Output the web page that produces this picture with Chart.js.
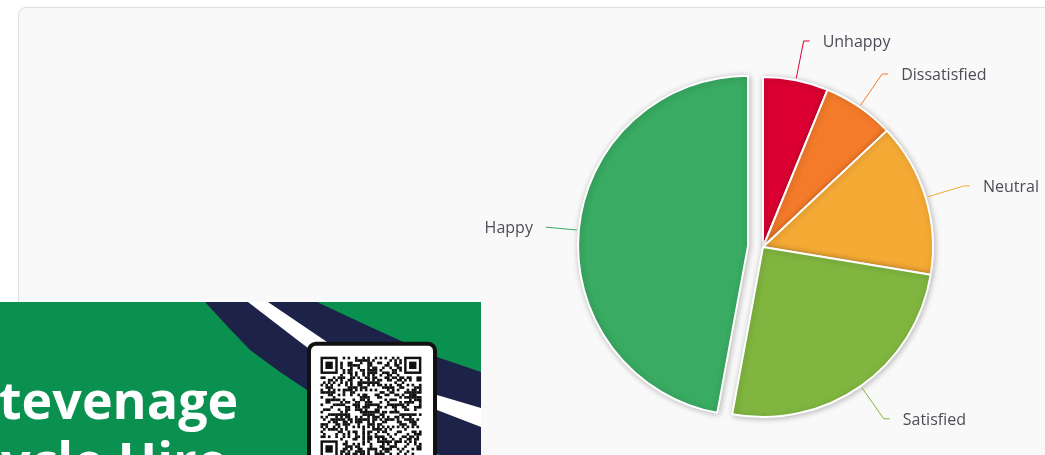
<!DOCTYPE html>
<html>
<head>
<meta charset="utf-8">
<script src="https://cdn.jsdelivr.net/npm/chart.js@4.4.1/dist/chart.umd.min.js"></script>
<style>
html,body{margin:0;padding:0;background:#ffffff;width:1045px;height:455px;overflow:hidden;}
#card{position:absolute;left:18px;top:7px;width:1100px;height:600px;background:#f9f9f9;border:1px solid #e0e0e0;border-radius:8px;box-shadow:0 0 2px rgba(0,0,0,0.06);}
#wrap{position:absolute;left:0;top:0;width:1045px;height:455px;}
#ad{position:absolute;left:0;top:302px;width:481px;height:153px;overflow:hidden;background:#0a9150;}
#ad svg{position:absolute;left:0;top:0;}
.adtxt{position:absolute;color:#ffffff;font-family:"Open Sans",sans-serif;font-weight:700;font-size:52px;line-height:52px;white-space:nowrap;}
</style>
</head>
<body>
<div id="card"></div>
<div id="wrap"><canvas id="c"></canvas></div>
<div id="ad">
  <svg id="adsvg" width="481" height="153" viewBox="0 0 481 153">
    <path d="M205,0 L317,0 Q385,32 437,55 L481,70 L481,153 L440,153 L360,115 L307,88 L280,70 L250,48 L228,25 Z" fill="#1d2348"/>
    <path d="M248,0 L268,0 L330,42 L437,93 L481,106 L481,125 L437,108 L320,55 L300,40 Z" fill="#ffffff"/>
    <rect x="309" y="41.7" width="126" height="140" rx="7" ry="7" fill="#ffffff" stroke="#111111" stroke-width="4"/>
    <g id="qr"></g>
  </svg>
  <div class="adtxt" id="t1">Stevenage</div>
  <div class="adtxt" id="t2">Cycle Hire</div>
</div>
<script>
// ---- data ----
const categories = ['Unhappy', 'Dissatisfied', 'Neutral', 'Satisfied', 'Happy'];
const responses = [6.2, 6.8, 14.6, 25.3, 47.1];
const explodedCategory = 'Happy';

// ---- styles ----
const sliceColors = ['#dc0032', '#f47b2a', '#f5aa36', '#80b63f', '#39ab62'];
const EXPLODE_PX = 15;
const LABEL_FONT = '16px "Open Sans", sans-serif';

function sliceCenter(arc, i) {
  const p = arc.getProps(['x', 'y', 'startAngle', 'endAngle', 'outerRadius'], true);
  const mid = (p.startAngle + p.endAngle) / 2;
  const off = categories[i] === explodedCategory ? EXPLODE_PX : 0;
  return {cx: p.x + Math.cos(mid) * off, cy: p.y + Math.sin(mid) * off, mid, r: p.outerRadius, dx: Math.cos(mid) * off, dy: Math.sin(mid) * off};
}

const explodeAndShadow = {
  id: 'explodeAndShadow',
  beforeDatasetDraw(chart, args) {
    const ctx = chart.ctx;
    args.meta.data.forEach((arc, i) => {
      const s = sliceCenter(arc, i);
      ctx.save();
      ctx.translate(s.dx, s.dy);
      ctx.shadowColor = 'rgba(0,0,0,0.25)';
      ctx.shadowBlur = 6;
      ctx.shadowOffsetX = 1;
      ctx.shadowOffsetY = 1;
      arc.draw(ctx, chart.chartArea);
      ctx.restore();
    });
    return false;
  }
};

const leaderLabels = {
  id: 'leaderLabels',
  afterDatasetsDraw(chart) {
    const ctx = chart.ctx;
    const meta = chart.getDatasetMeta(0);
    ctx.save();
    ctx.font = LABEL_FONT;
    meta.data.forEach((arc, i) => {
      const s = sliceCenter(arc, i);
      const c = Math.cos(s.mid), n = Math.sin(s.mid);
      const right = c >= 0;
      const len = right ? 40 : 33;
      const tick = right ? 6 : 0;
      const x0 = s.cx + c * (s.r + 2), y0 = s.cy + n * (s.r + 2);
      const x1 = s.cx + c * (s.r + len), y1 = s.cy + n * (s.r + len);
      const x2 = x1 + (right ? tick : -tick);
      ctx.strokeStyle = sliceColors[i];
      ctx.lineWidth = 1;
      ctx.beginPath();
      ctx.moveTo(x0, y0);
      ctx.lineTo(x1, y1);
      ctx.lineTo(x2, y1);
      ctx.stroke();
      ctx.fillStyle = '#4d4d57';
      ctx.textAlign = right ? 'left' : 'right';
      ctx.textBaseline = 'alphabetic';
      ctx.fillText(categories[i], x2 + (right ? 13 : -13), y1 + 6);
    });
    ctx.restore();
  }
};

new Chart(document.getElementById('c'), {
  type: 'pie',
  data: {
    labels: categories,
    datasets: [{
      data: responses,
      backgroundColor: sliceColors,
      borderColor: '#ffffff',
      borderWidth: 2
    }]
  },
  options: {
    responsive: true,
    maintainAspectRatio: false,
    animation: false,
    events: [],
    radius: 170,
    layout: {padding: {left: 563, right: 82, top: 47, bottom: 8}},
    plugins: {legend: {display: false}, tooltip: {enabled: false}}
  },
  plugins: [explodeAndShadow, leaderLabels]
});

// ---- decorative overlay (ad banner) ----
(function () {
  const mctx = document.createElement('canvas').getContext('2d');
  mctx.font = '700 52px "Open Sans", sans-serif';
  const sW = mctx.measureText('S').width;
  const cW = mctx.measureText('C').width;
  const t1 = document.getElementById('t1');
  const t2 = document.getElementById('t2');
  t1.style.left = (-sW - 1) + 'px';
  t1.style.top = (111 - 40) + 'px';
  t2.style.left = (-cW + 1) + 'px';
  t2.style.top = (172 - 40) + 'px';

  const g = document.getElementById('qr');
  const m = 2.46, ox = 320.5, oy = 54.7, N = 41;
  const ns = 'http://www.w3.org/2000/svg';
  function cell(x, y, w, h, fill) {
    const r = document.createElementNS(ns, 'rect');
    r.setAttribute('x', x); r.setAttribute('y', y);
    r.setAttribute('width', w); r.setAttribute('height', h);
    r.setAttribute('fill', fill);
    g.appendChild(r);
  }
  function finder(cx, cy) {
    cell(ox + cx * m, oy + cy * m, 7 * m, 7 * m, '#111');
    cell(ox + (cx + 1) * m, oy + (cy + 1) * m, 5 * m, 5 * m, '#fff');
    cell(ox + (cx + 2) * m, oy + (cy + 2) * m, 3 * m, 3 * m, '#111');
  }
  for (let r = 0; r < N; r++) {
    for (let k = 0; k < N; k++) {
      const inF = (r < 8 && k < 8) || (r < 8 && k > N - 9) || (r > N - 9 && k < 8);
      if (inF) continue;
      const h = (r * 37 + k * 71 + ((r * k) % 13) * 5 + ((r ^ k) % 7)) % 11;
      if (h < 5) cell(ox + k * m, oy + r * m, m + 0.2, m + 0.2, '#111');
    }
  }
  finder(0, 0); finder(N - 7, 0); finder(0, N - 7);
})();
</script>
</body>
</html>
